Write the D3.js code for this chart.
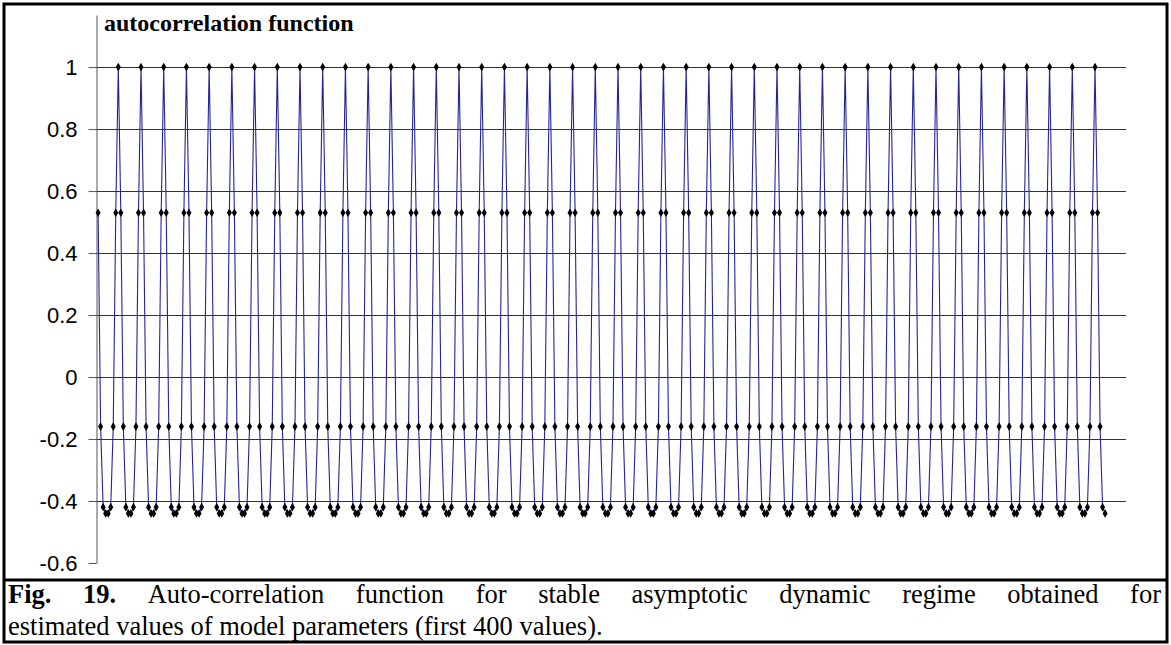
<!DOCTYPE html>
<html>
<head>
<meta charset="utf-8">
<script src="https://cdn.jsdelivr.net/npm/d3@7"></script>
<style>
  body { margin: 0; background: #fff; }
  svg { display: block; }
  .tick text { font-family: "Liberation Sans", Arial, sans-serif; }
  .serif { font-family: "Liberation Serif", "Times New Roman", Times, serif; }
</style>
</head>
<body>
<svg width="1171" height="645"></svg>
<script>
// **** data: autocorrelation values for lags 1..400 ****
var acf = [
  0.53,-0.16,-0.42,-0.44,-0.44,-0.42,-0.16,0.53,1,
  0.53,-0.16,-0.42,-0.44,-0.44,-0.42,-0.16,0.53,1,
  0.53,-0.16,-0.42,-0.44,-0.44,-0.42,-0.16,0.53,1,
  0.53,-0.16,-0.42,-0.44,-0.44,-0.42,-0.16,0.53,1,
  0.53,-0.16,-0.42,-0.44,-0.44,-0.42,-0.16,0.53,1,
  0.53,-0.16,-0.42,-0.44,-0.44,-0.42,-0.16,0.53,1,
  0.53,-0.16,-0.42,-0.44,-0.44,-0.42,-0.16,0.53,1,
  0.53,-0.16,-0.42,-0.44,-0.44,-0.42,-0.16,0.53,1,
  0.53,-0.16,-0.42,-0.44,-0.44,-0.42,-0.16,0.53,1,
  0.53,-0.16,-0.42,-0.44,-0.44,-0.42,-0.16,0.53,1,
  0.53,-0.16,-0.42,-0.44,-0.44,-0.42,-0.16,0.53,1,
  0.53,-0.16,-0.42,-0.44,-0.44,-0.42,-0.16,0.53,1,
  0.53,-0.16,-0.42,-0.44,-0.44,-0.42,-0.16,0.53,1,
  0.53,-0.16,-0.42,-0.44,-0.44,-0.42,-0.16,0.53,1,
  0.53,-0.16,-0.42,-0.44,-0.44,-0.42,-0.16,0.53,1,
  0.53,-0.16,-0.42,-0.44,-0.44,-0.42,-0.16,0.53,1,
  0.53,-0.16,-0.42,-0.44,-0.44,-0.42,-0.16,0.53,1,
  0.53,-0.16,-0.42,-0.44,-0.44,-0.42,-0.16,0.53,1,
  0.53,-0.16,-0.42,-0.44,-0.44,-0.42,-0.16,0.53,1,
  0.53,-0.16,-0.42,-0.44,-0.44,-0.42,-0.16,0.53,1,
  0.53,-0.16,-0.42,-0.44,-0.44,-0.42,-0.16,0.53,1,
  0.53,-0.16,-0.42,-0.44,-0.44,-0.42,-0.16,0.53,1,
  0.53,-0.16,-0.42,-0.44,-0.44,-0.42,-0.16,0.53,1,
  0.53,-0.16,-0.42,-0.44,-0.44,-0.42,-0.16,0.53,1,
  0.53,-0.16,-0.42,-0.44,-0.44,-0.42,-0.16,0.53,1,
  0.53,-0.16,-0.42,-0.44,-0.44,-0.42,-0.16,0.53,1,
  0.53,-0.16,-0.42,-0.44,-0.44,-0.42,-0.16,0.53,1,
  0.53,-0.16,-0.42,-0.44,-0.44,-0.42,-0.16,0.53,1,
  0.53,-0.16,-0.42,-0.44,-0.44,-0.42,-0.16,0.53,1,
  0.53,-0.16,-0.42,-0.44,-0.44,-0.42,-0.16,0.53,1,
  0.53,-0.16,-0.42,-0.44,-0.44,-0.42,-0.16,0.53,1,
  0.53,-0.16,-0.42,-0.44,-0.44,-0.42,-0.16,0.53,1,
  0.53,-0.16,-0.42,-0.44,-0.44,-0.42,-0.16,0.53,1,
  0.53,-0.16,-0.42,-0.44,-0.44,-0.42,-0.16,0.53,1,
  0.53,-0.16,-0.42,-0.44,-0.44,-0.42,-0.16,0.53,1,
  0.53,-0.16,-0.42,-0.44,-0.44,-0.42,-0.16,0.53,1,
  0.53,-0.16,-0.42,-0.44,-0.44,-0.42,-0.16,0.53,1,
  0.53,-0.16,-0.42,-0.44,-0.44,-0.42,-0.16,0.53,1,
  0.53,-0.16,-0.42,-0.44,-0.44,-0.42,-0.16,0.53,1,
  0.53,-0.16,-0.42,-0.44,-0.44,-0.42,-0.16,0.53,1,
  0.53,-0.16,-0.42,-0.44,-0.44,-0.42,-0.16,0.53,1,
  0.53,-0.16,-0.42,-0.44,-0.44,-0.42,-0.16,0.53,1,
  0.53,-0.16,-0.42,-0.44,-0.44,-0.42,-0.16,0.53,1,
  0.53,-0.16,-0.42,-0.44,-0.44,-0.42,-0.16,0.53,1,
  0.53,-0.16,-0.42,-0.44
];

var yTicks = [-0.6, -0.4, -0.2, 0, 0.2, 0.4, 0.6, 0.8, 1];
var yTickLabels = ["-0.6", "-0.4", "-0.2", "0", "0.2", "0.4", "0.6", "0.8", "1"];
var chartTitle = "autocorrelation function";
var captionBold = ["Fig.", "19."];
var captionLine1 = "Auto-correlation function for stable asymptotic dynamic regime obtained for";
var captionLine2 = "estimated values of model parameters (first 400 values).";

// **** scales ****
var svg = d3.select("svg");

var xScale = d3.scaleLinear().domain([1, 400]).range([98.1, 1105.1]);
var yScale = d3.scaleLinear().domain([-0.6, 1.168]).range([563, 15]);

// frame + caption separator
svg.append("rect").attr("x", 4).attr("y", 4).attr("width", 1163).attr("height", 638)
    .style("fill", "none").style("stroke", "#000").style("stroke-width", 3);
svg.append("line").attr("x1", 4).attr("x2", 1167).attr("y1", 580).attr("y2", 580)
    .style("stroke", "#000").style("stroke-width", 3);

// gridlines
svg.append("g").selectAll("line").data(yTicks.filter(function (d) { return d > -0.6; }))
    .enter().append("line")
    .attr("x1", 96).attr("x2", 1126)
    .attr("y1", function (d) { return Math.round(yScale(d)) + 0.5; })
    .attr("y2", function (d) { return Math.round(yScale(d)) + 0.5; })
    .style("stroke", "#333").style("stroke-width", 1);

// y axis
var yAxis = svg.append("g").attr("class", "y axis")
    .attr("transform", "translate(96.5,0)")
    .call(d3.axisLeft(yScale).tickValues(yTicks).tickSize(8).tickPadding(11)
        .tickSizeOuter(0)
        .tickFormat(function (d, i) { return yTickLabels[i]; }));
yAxis.select(".domain").style("stroke", "#555");
yAxis.selectAll(".tick line").style("stroke", "#555");
yAxis.selectAll(".tick text").style("font-size", "22px").style("fill", "#000");

// series line
var line = d3.line()
    .x(function (d, i) { return xScale(i + 1); })
    .y(function (d) { return yScale(d); });

svg.append("path").datum(acf).attr("d", line)
    .style("fill", "none").style("stroke", "#24249a").style("stroke-width", 1.1);

// markers
svg.append("g").selectAll("path").data(acf).enter().append("path")
    .attr("d", d3.symbol().type(d3.symbolDiamond).size(22))
    .attr("transform", function (d, i) {
        return "translate(" + xScale(i + 1) + "," + yScale(d) + ")";
    })
    .style("fill", "#000");

// title
svg.append("text").attr("class", "serif").attr("x", 104).attr("y", 31)
    .style("font-weight", "bold").style("font-size", "24px")
    .text(chartTitle);

// caption, first line justified
var capSize = "26.5px";
var left = 8, right = 1161, base1 = 603, base2 = 635;
var words = captionBold.concat(captionLine1.split(" "));
var nodes = words.map(function (w, i) {
    var t = svg.append("text").attr("class", "serif").attr("y", base1)
        .style("font-size", capSize).text(w);
    if (i < captionBold.length) t.style("font-weight", "bold");
    return t;
});
var widths = nodes.map(function (n) { return n.node().getComputedTextLength(); });
var gap = (right - left - d3.sum(widths)) / (nodes.length - 1);
var cx = left;
nodes.forEach(function (n, i) {
    n.attr("x", cx);
    cx += widths[i] + gap;
});

svg.append("text").attr("class", "serif").attr("x", left).attr("y", base2)
    .style("font-size", capSize)
    .text(captionLine2);
</script>
</body>
</html>
